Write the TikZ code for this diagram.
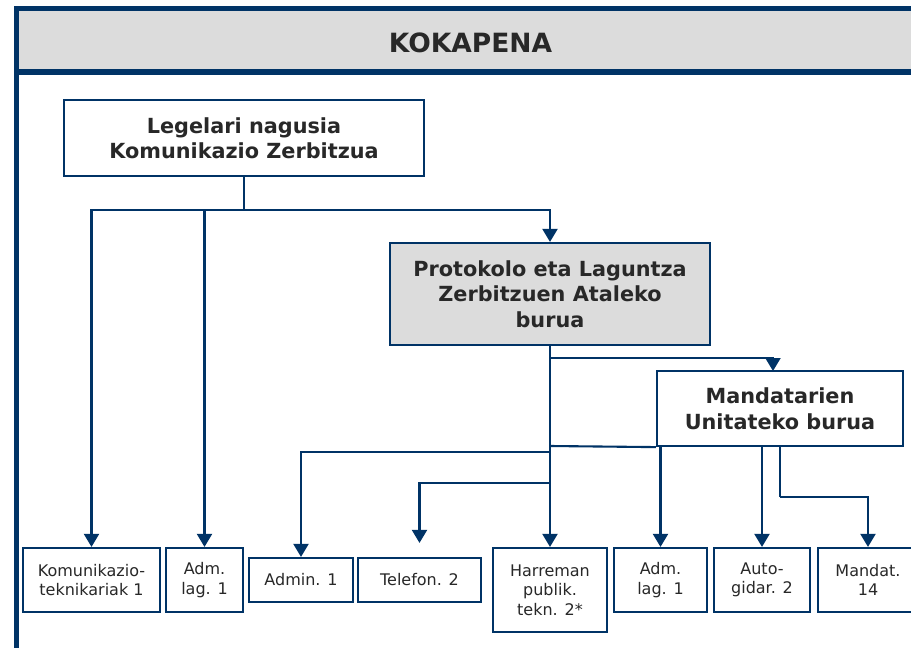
\documentclass[tikz,border=0pt]{standalone}
\usepackage{fontspec}
\setmainfont{DejaVu Sans}
\usetikzlibrary{arrows.meta,calc}
\definecolor{navy}{RGB}{0,51,102}
\definecolor{hdrgray}{RGB}{220,220,220}
\definecolor{txt}{RGB}{40,40,40}
\tikzset{
  box/.style={draw=navy, line width=2.2pt, fill=white, inner sep=0pt, align=center, text=txt},
  bigbox/.style={box, font=\bfseries\fontsize{20.8}{25.5}\selectfont},
  smallbox/.style={box, font=\fontsize{16}{19.5}\selectfont},
  conn/.style={draw=navy, line width=2.1pt},
  arr/.style={conn, -{Triangle[width=15pt,length=13pt]}},
}
\begin{document}
\begin{tikzpicture}[x=1pt,y=-1pt]
\useasboundingbox (0,0) rectangle (911,648);
\clip (0,0) rectangle (911,648);
\fill[white] (0,0) rectangle (911,648);
% frame and header
\fill[hdrgray] (19,11) rectangle (911,69);
\fill[navy] (14,6) rectangle (911,11);
\fill[navy] (14,69) rectangle (911,75);
\fill[navy] (14,6) rectangle (19,648);
\node[text=txt, font=\bfseries\fontsize{26.5}{30}\selectfont] (title) at (470.5,42.5) {KOKAPENA};

% main boxes
\node[bigbox, minimum width=360pt, minimum height=76pt] (legal) at (244,138) {Legelari nagusia\\Komunikazio Zerbitzua};
\node[bigbox, fill=hdrgray, minimum width=320pt, minimum height=102pt] (proto) at (550,294) {Protokolo eta Laguntza\\Zerbitzuen Ataleko\\burua};
\node[bigbox, minimum width=246pt, minimum height=75pt] (manda) at (780,408.5) {Mandatarien\\Unitateko burua};

% bottom boxes
\node[smallbox, minimum width=137pt, minimum height=64pt] (komu) at (91.5,580) {Komunikazio-\\teknikariak 1};
\node[smallbox, minimum width=77pt, minimum height=64pt] (adma) at (204.5,580) {Adm.\\lag. 1};
\node[smallbox, minimum width=104pt, minimum height=44pt] (admin) at (301,580) {Admin. 1};
\node[smallbox, minimum width=123pt, minimum height=44pt] (tel) at (419.5,580) {Telefon. 2};
\node[smallbox, minimum width=114pt, minimum height=84pt] (harr) at (550,590) {Harreman\\publik.\\tekn. 2*};
\node[smallbox, minimum width=93pt, minimum height=64pt] (admb) at (660.5,580) {Adm.\\lag. 1};
\node[smallbox, minimum width=96pt, minimum height=64pt] (auto) at (762,580) {Auto-\\gidar. 2};
\node[smallbox, minimum width=100pt, minimum height=64pt] (mand) at (868,580) {Mandat.\\14};

% connectors from Legelari
\coordinate (j1) at (244,210);
\draw[conn] (legal.south) -- (j1);
\draw[arr] (j1) -| (komu.north);
\draw[arr] (j1) -| (adma.north);
\draw[arr] (j1) -| (proto.north);

% connectors from Protokolo
\coordinate (jm) at (550,358);
\coordinate (mt) at (773,371);
\draw[conn] (proto.south) -- (jm);
\draw[arr] (jm) -| (mt);
\draw[arr] (proto.south) -- (harr.north);
\coordinate (jb) at (550,446);
\draw[conn, line width=2.8pt] (proto.south) -- (jb);
\draw[conn] (jb) -- (manda.south west);
\coordinate (ja) at (550,452);
\draw[arr] (ja) -| (admin.north);
\coordinate (jt) at (550,483);
\draw[arr, shorten >=14pt] (jt) -| (tel.north);

% connectors from Mandatarien
\draw[arr] (manda.south -| admb.north) -- (admb.north);
\draw[arr] (manda.south -| auto.north) -- (auto.north);
\coordinate (jmd) at (780,497);
\draw[conn] (manda.south) -- (jmd);
\draw[arr] (jmd) -| (mand.north);
\end{tikzpicture}
\end{document}
